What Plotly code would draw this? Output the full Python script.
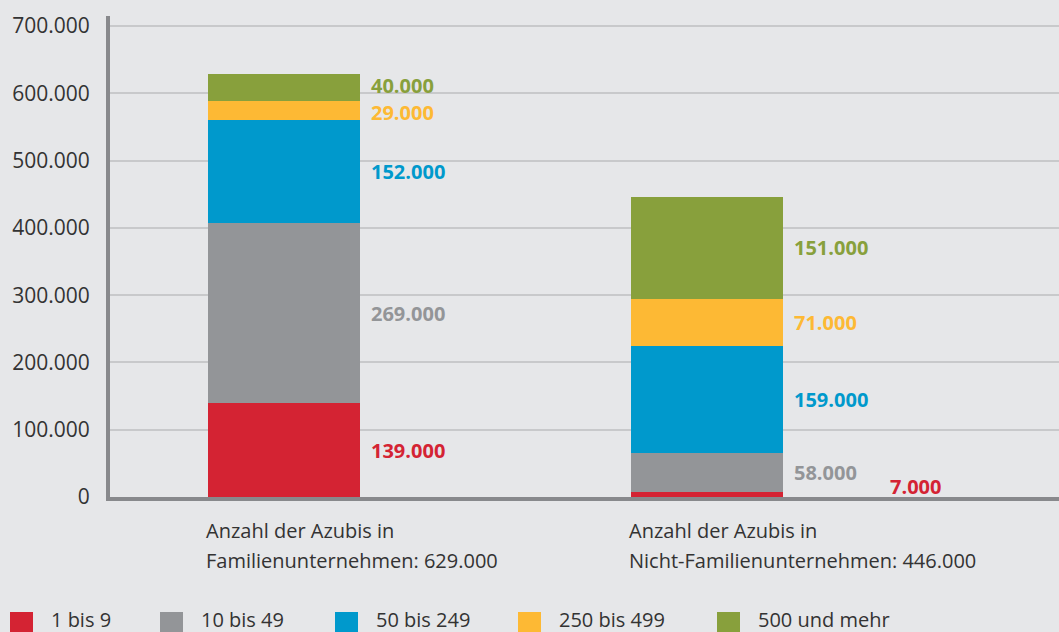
import plotly.graph_objects as go

# ---------------- data ----------------
categories = ["Familienunternehmen", "Nicht-Familienunternehmen"]
category_lines = [
    ["Anzahl der Azubis in", "Familienunternehmen: 629.000"],
    ["Anzahl der Azubis in", "Nicht-Familienunternehmen: 446.000"],
]
series_names = ["1 bis 9", "10 bis 49", "50 bis 249", "250 bis 499", "500 und mehr"]
s_1_9 = [139000, 7000]
s_10_49 = [269000, 58000]
s_50_249 = [152000, 159000]
s_250_499 = [29000, 71000]
s_500 = [40000, 151000]
series_values = [s_1_9, s_10_49, s_50_249, s_250_499, s_500]
y_tick_values = [0, 100000, 200000, 300000, 400000, 500000, 600000, 700000]
y_tick_labels = ["0", "100.000", "200.000", "300.000", "400.000", "500.000", "600.000", "700.000"]

# ---------------- style ----------------
colors = ["#d42333", "#939598", "#0099cc", "#fdb934", "#88a03c"]
BG = "#e6e7e9"
FONT = "Open Sans"
TXT = "#333333"
W, H = 1059, 632
ML, MR, MT, MB = 110, 0, 16, 135
PW, PH = W - ML - MR, H - MT - MB
BAR_W = 0.36
X_RANGE = [-0.411, 1.832]
# small label nudges (pixels) keyed by (category index, series index)
LABEL_NUDGE = {(1, 0): (96, 8), (0, 4): (0, 2), (0, 3): (0, -2)}


def fmt(v):
    return f"{v:,}".replace(",", ".")


def px_x(p):
    return (p - ML) / PW


def px_y(p):
    return (H - MB - p) / PH


xs = list(range(len(categories)))
fig = go.Figure()
for name, vals, col in zip(series_names, series_values, colors):
    fig.add_trace(go.Bar(x=xs, y=vals, name=name, marker=dict(color=col, line=dict(width=0)),
                         width=BAR_W, showlegend=False, hoverinfo="skip"))

# value labels next to each segment
annotations = []
for ci in xs:
    base = 0
    for si, (vals, col) in enumerate(zip(series_values, colors)):
        v = vals[ci]
        dx, dy = LABEL_NUDGE.get((ci, si), (0, 0))
        annotations.append(dict(
            x=ci + BAR_W / 2, y=base + v / 2, xref="x", yref="y",
            text=f"<b>{fmt(v)}</b>", showarrow=False, xanchor="left", yanchor="middle",
            xshift=10 + dx, yshift=dy, borderpad=0,
            font=dict(family=FONT, size=20, color=col)))
        base += v

# category labels (left aligned at bar's left edge)
for ci, lines in zip(xs, category_lines):
    for li, line in enumerate(lines):
        annotations.append(dict(
            x=ci - BAR_W / 2, y=0, xref="x", yref="y", text=line, showarrow=False,
            xanchor="left", yanchor="middle", yshift=-(33 + 30 * li), xshift=-3, borderpad=0,
            font=dict(family=FONT, size=20, color=TXT)))

# manual legend
legend_x = [10, 160, 335, 518, 717]
shapes = []
for lx, name, col in zip(legend_x, series_names, colors):
    shapes.append(dict(type="rect", xref="paper", yref="paper",
                       x0=px_x(lx), x1=px_x(lx + 23), y0=px_y(612), y1=px_y(640),
                       fillcolor=col, line=dict(width=0), layer="above"))
    annotations.append(dict(x=px_x(lx + 40), y=px_y(619), xref="paper", yref="paper",
                            text=name, showarrow=False, xanchor="left", yanchor="middle",
                            borderpad=0,
                            font=dict(family=FONT, size=20, color=TXT)))

fig.update_layout(
    barmode="stack",
    width=W, height=H,
    margin=dict(l=ML, r=MR, t=MT, b=MB, pad=0),
    paper_bgcolor=BG, plot_bgcolor=BG,
    font=dict(family=FONT, size=20, color=TXT),
    xaxis=dict(range=X_RANGE, showticklabels=False, showgrid=False, zeroline=False,
               showline=True, linecolor="#88898c", linewidth=4, ticks="", fixedrange=True),
    yaxis=dict(range=[0, 715000], tickvals=y_tick_values, ticktext=y_tick_labels,
               showgrid=True, gridcolor="#c8c9cb", gridwidth=2, zeroline=False,
               showline=True, linecolor="#88898c", linewidth=4, ticks="", fixedrange=True,
               ticklabelstandoff=12, tickfont=dict(family=FONT, size=21, color=TXT)),
    annotations=annotations,
    shapes=shapes,
    showlegend=False,
    hovermode=False,
)

fig.write_html(
    "out.html",
    config={"displayModeBar": False, "staticPlot": True},
    post_script="document.body.style.margin='0';document.body.style.padding='0';"
                "document.body.style.overflow='hidden';",
)
